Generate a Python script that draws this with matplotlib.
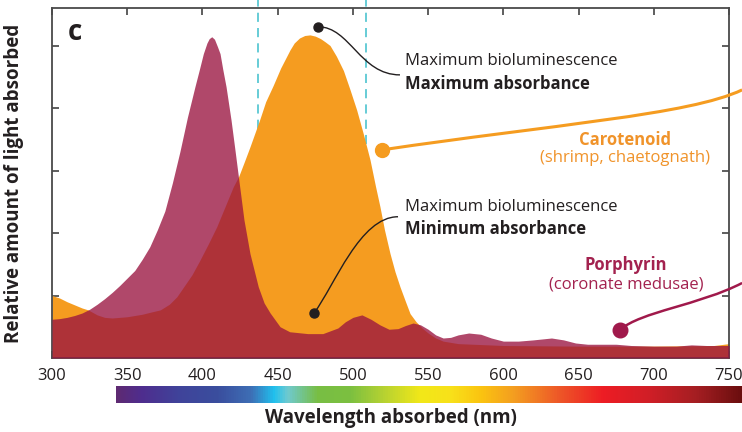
import numpy as np
import matplotlib
matplotlib.use("Agg")
import matplotlib.pyplot as plt
from matplotlib.colors import LinearSegmentedColormap
from matplotlib.path import Path
from matplotlib.patches import PathPatch

plt.rcParams['font.family'] = ['Open Sans', 'DejaVu Sans']

# carotenoid absorbance (shrimp, chaetognath)
carot_nm = [300, 305, 310, 315, 320, 324, 330, 335, 340, 350, 360, 365, 372, 378,
            383, 387, 393, 398, 404, 409.5, 415, 420.5, 424, 428, 431.6, 438, 442,
            447, 452, 458.2, 461, 464.5, 468, 471.5, 475, 478.5, 481.5, 484.8, 489,
            493.7, 498, 502.5, 507, 511.4, 515, 518, 521, 524.7, 528, 531.3, 535,
            538, 542, 546, 550, 555, 560, 570, 600, 650, 700, 740, 750]
carot_val = [1.0, 0.96, 0.90, 0.85, 0.80, 0.77, 0.69, 0.65, 0.64, 0.66, 0.70, 0.73,
             0.77, 0.86, 0.98, 1.12, 1.33, 1.55, 1.83, 2.1, 2.42, 2.74, 2.9, 3.15,
             3.38, 3.81, 4.1, 4.36, 4.64, 4.93, 5.04, 5.12, 5.16, 5.17, 5.15, 5.11,
             5.06, 5.0, 4.83, 4.6, 4.3, 3.97, 3.58, 3.17, 2.75, 2.42, 2.05, 1.67,
             1.38, 1.14, 0.9, 0.71, 0.58, 0.48, 0.40, 0.32, 0.27, 0.23, 0.20, 0.19,
             0.19, 0.20, 0.23]

# porphyrin absorbance (coronate medusae)
porph_nm = [300, 305, 310, 315, 320, 325, 330, 335, 340, 345, 350, 355, 360, 365,
            370, 375, 380, 385, 390, 395, 398, 400.6, 403, 404.5, 406.2, 408, 410,
            411.7, 413.5, 415.7, 419, 421.5, 423.9, 427.6, 431.6, 437.1, 441, 445,
            451.6, 458, 470, 480, 490, 495, 500, 506, 512, 518, 524, 530, 535, 540,
            545, 550, 555, 560, 565, 570, 577, 585, 592, 600, 610, 620, 632, 640,
            648, 656, 665, 675, 685, 700, 715, 725, 735, 750]
porph_val = [0.62, 0.63, 0.65, 0.68, 0.72, 0.78, 0.86, 0.95, 1.05, 1.16, 1.28, 1.40,
             1.58, 1.78, 2.05, 2.35, 2.8, 3.3, 3.85, 4.34, 4.62, 4.87, 5.04, 5.11,
             5.14, 5.10, 4.98, 4.87, 4.62, 4.34, 3.81, 3.35, 2.9, 2.21, 1.67, 1.14,
             0.88, 0.72, 0.5, 0.42, 0.39, 0.39, 0.48, 0.58, 0.65, 0.69, 0.62, 0.53,
             0.46, 0.47, 0.52, 0.56, 0.53, 0.46, 0.37, 0.32, 0.33, 0.37, 0.40, 0.38,
             0.32, 0.27, 0.27, 0.29, 0.32, 0.29, 0.24, 0.22, 0.22, 0.22, 0.20, 0.19,
             0.19, 0.21, 0.20, 0.20]

# visible spectrum strip under the x axis
spectrum_nm = [342.5, 358.5, 383, 409.5, 431.6, 447, 456, 476, 498, 520, 544.6,
               564.6, 584.5, 606.5, 635.5, 666.3, 695.3, 728.5, 758.4]
spectrum_colors = ['#5E2A72', '#4F2D8E', '#40439A', '#3A4E9E', '#3E6EB5', '#20C0EE',
                   '#6FCAD0', '#78BE44', '#7CC040', '#B6D232', '#F2E818', '#F8E11A',
                   '#FBC410', '#F49E20', '#EE5A28', '#ED1C24', '#D21F27', '#A41E22',
                   '#6A0E0E']

x_ticks = [300, 350, 400, 450, 500, 550, 600, 650, 700, 750]
y_ticks = [1, 2, 3, 4, 5]
bio_lines = [437, 509]  # dashed bioluminescence band

ORANGE = '#F59C20'
PORPH = '#9A1440'
CRIMSON = '#A0194B'
INK = '#231F20'

fig = plt.figure(figsize=(7.42, 4.32), dpi=100)
ax = fig.add_axes([52 / 742, 74 / 432, 677 / 742, 350 / 432])
ax.set_xlim(300, 750)
ax.set_ylim(0, 5.6)

for wl in bio_lines:
    ax.plot([wl, wl], [0, 5.73], color='#3DBFCB', lw=1.1, ls=(0, (6, 4)),
            clip_on=False, zorder=1)

ax.fill_between(carot_nm, 0, carot_val, color=ORANGE, lw=0, zorder=2)
ax.fill_between(porph_nm, 0, porph_val, color=PORPH, alpha=0.78, lw=0, zorder=3)

# spines and ticks
for s in ax.spines.values():
    s.set_color('#4a4a4a')
    s.set_linewidth(1.3)
ax.set_xticks(x_ticks)
ax.set_yticks(y_ticks)
ax.set_yticklabels([])
ax.tick_params(axis='both', direction='in', length=5, width=1.1, color='#333333',
               top=True, right=True, labelsize=12, labelcolor=INK, pad=7)
ax.set_ylabel('Relative amount of light absorbed', fontsize=13.5, fontweight='bold',
              color=INK, labelpad=13)


def curve(pts, color, lw):
    path = Path(pts, [Path.MOVETO, Path.CURVE4, Path.CURVE4, Path.CURVE4])
    ax.add_patch(PathPatch(path, fc='none', ec=color, lw=lw, clip_on=False, zorder=5))


# callouts
curve([(476.8, 5.30), (498.1, 5.30), (504.7, 4.53), (531.3, 4.53)], INK, 1.0)
curve([(474.2, 0.72), (488.1, 1.17), (504.7, 2.26), (530.0, 2.26)], INK, 1.0)
curve([(519.4, 3.33), (631.0, 3.73), (724.1, 3.89), (758.7, 4.29)], ORANGE, 2.2)
curve([(677.6, 0.45), (690.9, 0.74), (730.7, 0.85), (758.7, 1.20)], CRIMSON, 1.8)

ax.plot([476.8], [5.30], 'o', color=INK, ms=6.5, zorder=6, clip_on=False)
ax.plot([474.2], [0.72], 'o', color=INK, ms=6.5, zorder=6)
ax.plot([519.4], [3.33], 'o', color=ORANGE, ms=10, zorder=6)
ax.plot([677.6], [0.45], 'o', color=CRIMSON, ms=10.5, zorder=6)

ax.text(534.6, 4.75, 'Maximum bioluminescence', fontsize=12, color=INK, va='center')
ax.text(534.6, 4.38, 'Maximum absorbance', fontsize=12, color=INK, va='center',
        fontweight='bold')
ax.text(534.6, 2.42, 'Maximum bioluminescence', fontsize=12, color=INK, va='center')
ax.text(534.6, 2.06, 'Minimum absorbance', fontsize=12, color=INK, va='center',
        fontweight='bold')
ax.text(680.9, 3.49, 'Carotenoid', fontsize=12, color='#F0932A', ha='center',
        va='center', fontweight='bold')
ax.text(680.9, 3.20, '(shrimp, chaetognath)', fontsize=12, color='#F0932A',
        ha='center', va='center')
ax.text(681.5, 1.49, 'Porphyrin', fontsize=12, color='#A3224F', ha='center',
        va='center', fontweight='bold')
ax.text(681.5, 1.18, '(coronate medusae)', fontsize=12, color='#A3224F',
        ha='center', va='center')
ax.text(315.3, 5.2, 'c', fontsize=20, color=INK, ha='center', va='center',
        fontweight='bold')

# spectrum strip
cmap = LinearSegmentedColormap.from_list(
    'spec', [((w - spectrum_nm[0]) / (spectrum_nm[-1] - spectrum_nm[0]), c)
             for w, c in zip(spectrum_nm, spectrum_colors)])
bx0 = 52 + (spectrum_nm[0] - 300) * 677 / 450
bax = fig.add_axes([bx0 / 742, 29 / 432, (742 - bx0) / 742, 17 / 432])
bax.imshow(np.linspace(0, 1, 512)[None, :], aspect='auto', cmap=cmap,
           extent=[spectrum_nm[0], spectrum_nm[-1], 0, 1])
bax.axis('off')

fig.text(391 / 742, 1 - 418 / 432, 'Wavelength absorbed (nm)', fontsize=13.5,
         fontweight='bold', color=INK, ha='center', va='center')

fig.savefig('out.png', dpi=100)
